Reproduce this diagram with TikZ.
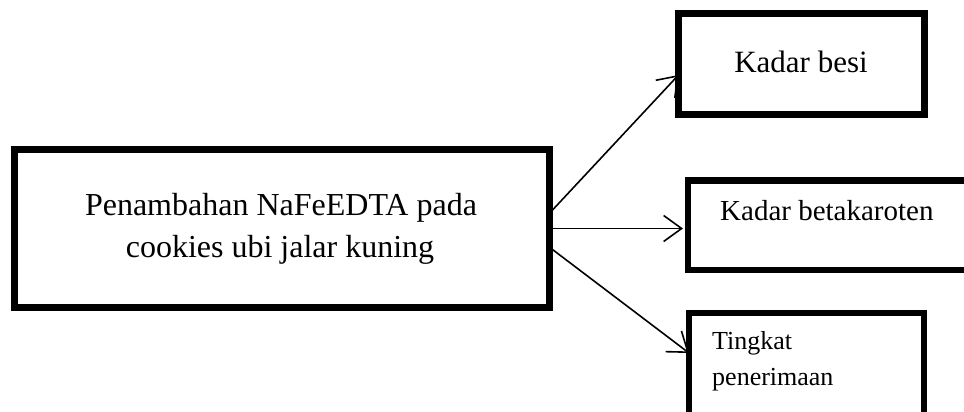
\documentclass[tikz,border=0pt]{standalone}
\usepackage{fontspec}
\setmainfont{Liberation Serif}
\usetikzlibrary{arrows.meta}
\begin{document}
\begin{tikzpicture}[x=1pt,y=-1pt,
  boxnode/.style={draw=black,line width=7pt,rectangle,inner sep=0pt,outer sep=0pt,fill=none},
  arr/.style={line width=1.6pt,-{Straight Barb[length=18pt,width=26pt,line width=1.6pt]}},
  txt/.style={inner sep=0pt,anchor=base}]
\useasboundingbox (0,0) rectangle (964,412);
\clip (0,0) rectangle (964,412);
% boxes
\node[boxnode,minimum width=535pt,minimum height=158.5pt] (main) at (282,228.25) {};
\node[boxnode,minimum width=245.5pt,minimum height=101pt] (besi) at (801.25,64) {};
\node[boxnode,line width=6.5pt,minimum width=287pt,minimum height=89.5pt] (beta) at (831.5,225.25) {};
\node[boxnode,line width=6.5pt,minimum width=235pt,minimum height=117pt] (ting) at (806.5,371.5) {};
% texts
\node[txt] (m1) at (281,215) {\fontsize{32}{42}\selectfont Penambahan NaFeEDTA pada};
\node[txt] (m2) at (280,257) {\fontsize{32}{42}\selectfont cookies ubi jalar kuning};
\node[txt] (t1) at (801,73) {\fontsize{31}{38}\selectfont Kadar besi};
\node[txt,anchor=base west] (t2) at (720,220) {\fontsize{29}{35}\selectfont Kadar betakaroten};
\node[txt,anchor=base west] (t3) at (712,349) {\fontsize{26}{36}\selectfont Tingkat};
\node[txt,anchor=base west] (t4) at (712,385) {\fontsize{26}{36}\selectfont penerimaan};
% arrows
\draw[arr] ([yshift=15pt]main.east) -- ([yshift=-11pt]besi.west);
\draw[arr,shorten >=5pt] ([yshift=-0.25pt]main.east) -- ([yshift=-0.25pt]main.east -| beta.west);
\draw[arr] ([yshift=-19pt]main.east) -- ([yshift=18.5pt]ting.west);
\end{tikzpicture}
\end{document}
